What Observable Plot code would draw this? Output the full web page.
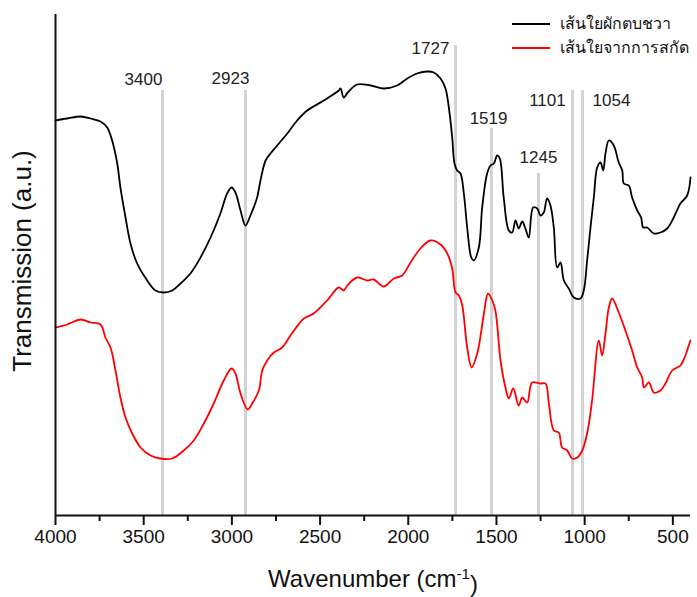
<!DOCTYPE html>
<html><head><meta charset="utf-8">
<script src="https://cdn.jsdelivr.net/npm/d3@7"></script>
<script src="https://cdn.jsdelivr.net/npm/@observablehq/plot@0.6"></script>
<style>
body{margin:0;background:#fff;font-family:"Liberation Sans",Arial,sans-serif;}
#wrap{position:relative;width:697px;height:597px;overflow:hidden;}
#legend{position:absolute;left:512px;top:12px;font-size:16px;color:#111;white-space:nowrap;}
#legend .row{display:flex;align-items:center;height:24px;white-space:nowrap;}
#legend .sw{flex:none;width:38px;height:0;border-top:2px solid;margin-right:10px;}
#legend .lbl{line-height:24px;}
</style></head><body>
<div id="wrap"><div id="chart"></div><div id="legend"></div></div>
<script>
// Series 1: เส้นใยผักตบชวา (black)
const wnBlack = [4000,3934,3858,3802,3745,3707,3679,3650,3632,3603,3575,3537,3480,3433,3386,3338,3291,3235,3178,3121,3065,3027,3002,2980,2951,2923,2895,2857,2838,2809,2781,2753,2686,2630,2573,2479,2394,2384,2366,2343,2290,2214,2139,2063,2006,1950,1893,1855,1817,1789,1770,1751,1738,1723,1704,1685,1666,1643,1629,1600,1581,1553,1534,1515,1496,1481,1459,1430,1411,1392,1374,1354,1336,1317,1292,1269,1251,1232,1213,1194,1175,1156,1137,1118,1090,1062,1024,1005,986,967,948,929,910,895,882,863,835,807,787,778,750,731,702,680,668,646,608,570,532,495,457,419,400];
const tBlack = [395,397,399,397,394,388,375,352,328,298,272,252,235,225,223,225,232,242,258,278,302,322,328,323,305,290,300,318,335,355,362,368,382,395,405,415,425,427,418,423,431,430,427,430,437,442,444,443,437,427,408,378,352,345,342,322,288,258,255,268,308,342,350,352,360,357,318,285,283,295,287,294,287,278,308,307,300,303,317,310,288,248,253,235,227,218,217,225,255,288,318,348,353,345,362,375,370,353,345,332,330,318,305,298,288,288,282,283,287,298,312,320,338];
// Series 2: เส้นใยจากการสกัด (red)
const wnRed = [4000,3934,3858,3802,3745,3717,3688,3660,3632,3603,3565,3518,3461,3405,3338,3273,3216,3159,3103,3046,3002,2980,2951,2910,2885,2847,2828,2800,2762,2715,2668,2592,2536,2460,2394,2366,2346,2290,2233,2196,2139,2082,2035,1987,1931,1874,1817,1779,1751,1732,1713,1694,1666,1641,1609,1571,1548,1524,1506,1477,1449,1430,1405,1374,1354,1326,1298,1251,1222,1203,1175,1147,1128,1099,1071,1042,1014,986,958,920,901,882,863,844,807,769,731,702,674,664,636,608,570,542,504,457,429,410,400];
const tRed = [188,191,196,193,191,178,168,145,118,98,82,68,60,57,57,65,75,92,112,135,147,142,122,106,112,125,145,155,163,168,180,197,202,215,228,225,230,238,235,236,229,237,240,253,267,275,271,262,247,223,220,210,168,148,162,202,222,215,205,155,128,117,127,110,118,113,133,132,132,112,85,83,68,65,57,58,65,82,115,175,160,182,208,217,203,185,165,148,138,128,133,123,125,132,145,150,160,170,175];

const seriesNames = ["เส้นใยผักตบชวา", "เส้นใยจากการสกัด"];
const seriesColors = ["#000000", "#ff0000"];

const xTicks = [4000,3500,3000,2500,2000,1500,1000,500];
const xMinorTicks = [3750,3250,2750,2250,1750,1250,750];

// Peak annotations
const peakLabels = ["3400","2923","1727","1519","1245","1101","1054"];
const peakPos    = [3393,2923,1732,1528,1262,1069,1012];
const peakTop    = [425,425,470,387,342,425,425];
const labelX     = [3501,3008,1874,1545,1262,1211,848];
const labelY     = [436,437,467,397,358,415,415];

const rows = [
  ...wnBlack.map((w,i)=>({wn:w, t:tBlack[i], s:seriesNames[0]})),
  ...wnRed.map((w,i)=>({wn:w, t:tRed[i], s:seriesNames[1]}))
];
const peaks = peakLabels.map((l,i)=>({label:l, pos:peakPos[i], top:peakTop[i], lx:labelX[i], ly:labelY[i]}));

const chart = Plot.plot({
  width: 697, height: 597,
  marginLeft: 55, marginRight: 7, marginTop: 14, marginBottom: 82,
  style: {fontFamily: "'Liberation Sans', Arial, sans-serif", color: "#111", background: "#fff"},
  x: {domain: [4000, 400]},
  y: {domain: [0, 501], axis: null},
  color: {domain: seriesNames, range: seriesColors},
  marks: [
    Plot.ruleX(peaks, {x: "pos", y1: 0, y2: "top", stroke: "#d3d3d3", strokeWidth: 3}),
    Plot.text(peaks, {x: "lx", y: "ly", text: "label", fontSize: 17, fill: "#222"}),
    Plot.line(rows, {x: "wn", y: "t", z: "s", stroke: "s", strokeWidth: 1.8, curve: "catmull-rom"}),
    Plot.axisX(xMinorTicks, {tickSize: 6, strokeWidth: 2, tickFormat: () => "", label: null}),
    Plot.axisX({ticks: xTicks, tickSize: 10, strokeWidth: 2, tickPadding: 4, fontSize: 19, tickFormat: d => String(d), label: null}),
    Plot.ruleY([0], {strokeWidth: 2, stroke: "#111"}),
    Plot.ruleX([4000], {strokeWidth: 2, stroke: "#111"}),
    Plot.text(["Transmission (a.u.)"], {frameAnchor: "left", dx: -33, dy: -4, rotate: -90, textAnchor: "middle", fontSize: 26, fill: "#111"}),
    Plot.text(["Wavenumber (cm-1)"], {frameAnchor: "bottom", dy: 64, lineAnchor: "middle", textAnchor: "middle", fontSize: 24, fill: "#111"})
  ]
});
document.getElementById("chart").appendChild(chart);

d3.select(chart).selectAll("text").filter(function(){ return this.textContent === "Wavenumber (cm-1)"; })
  .each(function(){
    const t = d3.select(this);
    t.text(null);
    t.append("tspan").text("Wavenumber (cm");
    t.append("tspan").attr("dy", "-0.55em").attr("font-size", "15px").text("-1");
    t.append("tspan").attr("dy", "0.55em").text(")");
  });

const legend = d3.select("#legend");
seriesNames.forEach((n,i)=>{
  const r = legend.append("div").attr("class","row");
  r.append("span").attr("class","sw").style("border-color", seriesColors[i]);
  r.append("span").attr("class","lbl").text(n);
});
</script>
</body></html>
